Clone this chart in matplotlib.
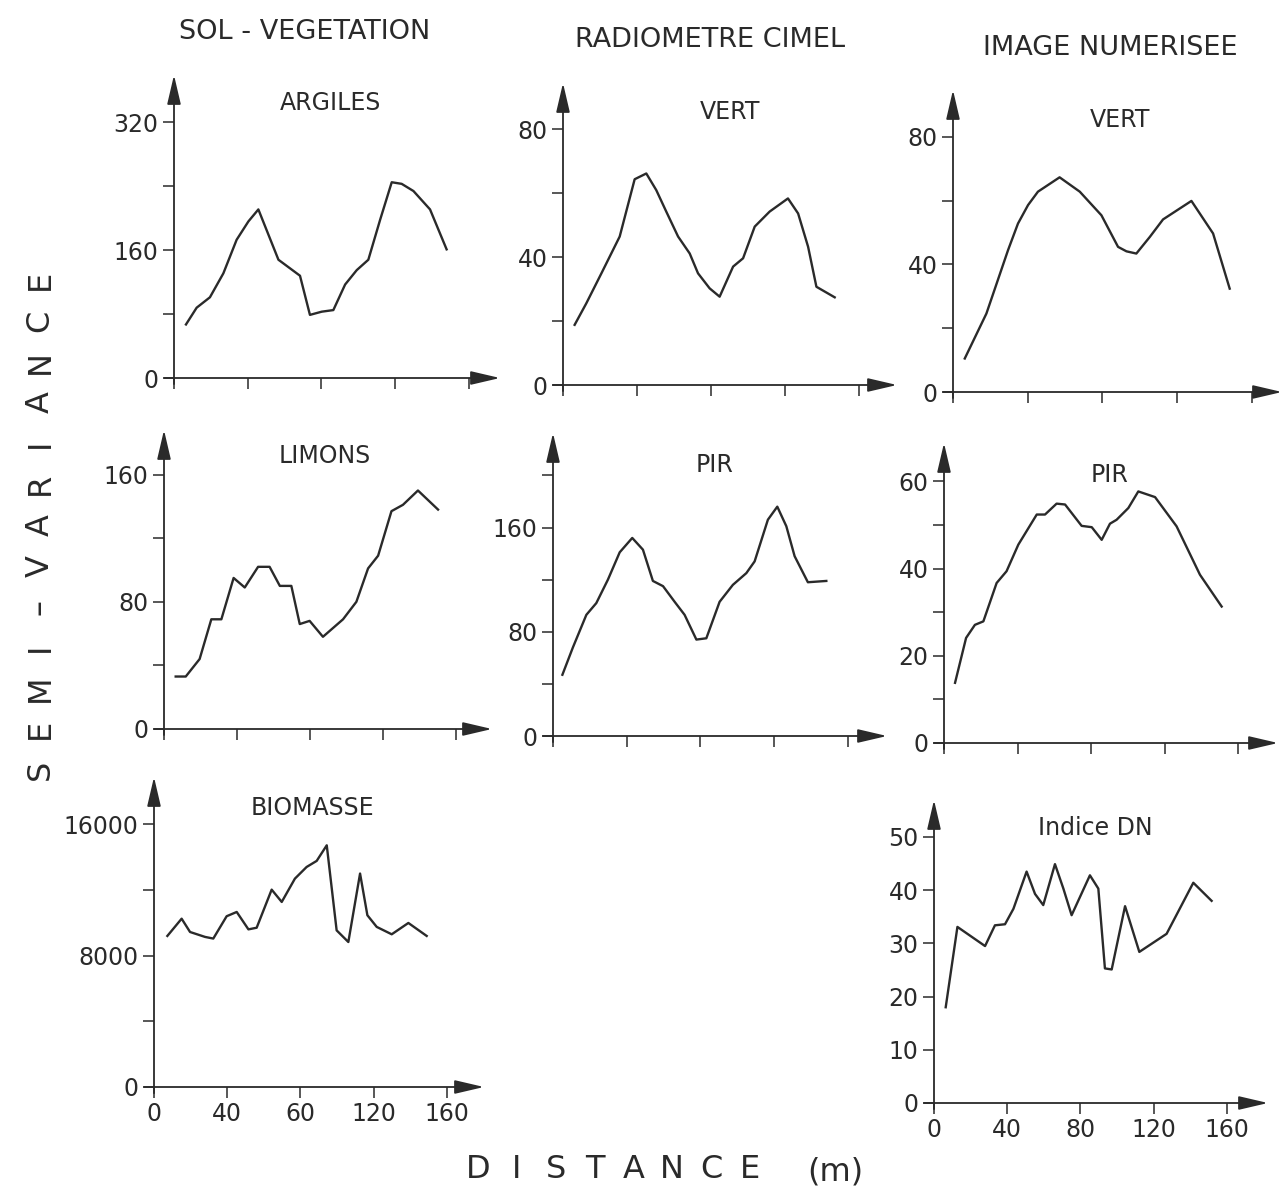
import matplotlib
matplotlib.use("Agg")
import matplotlib.pyplot as plt
import numpy as np

# --- data (distance in m, semi-variance) ---
argiles_x = [6.5, 12.3, 19.5, 26.8, 34, 40.4, 45.8, 56.7, 68.4, 73.8, 80.2, 86.5, 92.9, 99.2, 105.5, 111.9, 118.2, 123.6, 130, 139, 148]
argiles_y = [67, 88, 101, 131, 173, 196, 211, 148, 128, 79, 83, 85, 117, 135, 148, 198, 245, 243, 234, 211, 161]

rad_vert_x = [6.3, 12.6, 20.8, 30.7, 38.8, 45.1, 50.5, 55.9, 62.3, 68.6, 73.1, 79.4, 84.8, 92.1, 97.5, 103.8, 111.9, 121.8, 127.3, 132.7, 137.2, 147.1]
rad_vert_y = [18.8, 25.5, 34.9, 46.4, 64.3, 66.1, 60.9, 54.2, 46.4, 41.1, 34.9, 30.2, 27.6, 37, 39.6, 49.5, 54.2, 58.3, 53.6, 43.2, 30.7, 27.4]

img_vert_x = [6.3, 17.9, 29.5, 34.8, 40.2, 45.5, 57.1, 67.9, 79.5, 88.4, 92.9, 98.2, 105.4, 112.5, 121.4, 127.7, 139.3, 148.2]
img_vert_y = [10.5, 24.6, 44.5, 52.8, 58.6, 62.8, 67.3, 62.8, 55.4, 45.5, 44.1, 43.4, 48.6, 54.1, 57.5, 59.9, 49.7, 32.4]

limons_x = [6.4, 11.9, 19.5, 25.9, 31.4, 38.1, 44.2, 51.5, 57.8, 63.4, 69.7, 74.3, 79.7, 87, 98, 105.3, 111.7, 117.2, 124.5, 130.8, 139, 150]
limons_y = [33, 33, 44, 69, 69, 95, 89, 102, 102, 90, 90, 66, 68, 58, 69, 80, 101, 109, 137, 141, 150, 138]

rad_pir_x = [5.1, 10.8, 18.1, 23.5, 29.8, 36.2, 43, 48.8, 54.2, 59.7, 66, 71.4, 77.8, 83.2, 90.4, 97.6, 104.9, 109.4, 116.6, 121.7, 126.6, 131.1, 138.3, 148.3]
rad_pir_y = [47, 68, 93, 102, 120, 141, 152, 143, 119, 115, 103, 93, 74, 75, 103, 116, 125, 134, 166, 176, 161, 138, 118, 119]

img_pir_x = [6, 12, 16.8, 21.4, 28.6, 34, 40.4, 50.4, 54.9, 61.2, 65.8, 74.8, 80.3, 85.7, 90.2, 93.8, 100.2, 105.6, 114.7, 126.4, 139.1, 150.9]
img_pir_y = [13.8, 24.1, 27.1, 27.9, 36.7, 39.4, 45.5, 52.4, 52.4, 54.9, 54.7, 49.8, 49.5, 46.6, 50.3, 51.2, 53.9, 57.7, 56.4, 49.7, 38.6, 31.3]

biomasse_x = [7.3, 15.1, 19.7, 27.9, 32.4, 39.7, 45.2, 51.6, 56.1, 64.3, 69.8, 77, 83.4, 88.9, 94.4, 99.8, 106.2, 112.6, 116.6, 121.7, 129.9, 139, 149]
biomasse_y = [9200, 10250, 9440, 9140, 9040, 10400, 10660, 9600, 9700, 12020, 11270, 12690, 13400, 13770, 14720, 9540, 8830, 13000, 10460, 9750, 9300, 9990, 9200]

dn_x = [6.4, 12.8, 27.9, 33.3, 38.8, 43.4, 50.6, 55.2, 59.7, 66.1, 70.7, 75.2, 85.2, 89.8, 93.4, 97.1, 104.4, 112.2, 127.1, 141.7, 151.7]
dn_y = [18, 33.1, 29.5, 33.4, 33.6, 36.5, 43.5, 39.3, 37.2, 44.9, 40.3, 35.3, 42.8, 40.3, 25.3, 25.1, 37, 28.4, 31.8, 41.4, 38]

x_ticks = [0, 40, 80, 120, 160]
x_labels_left = ["0", "40", "60", "120", "160"]
x_labels_right = ["0", "40", "80", "120", "160"]

W, H = 1286, 1196
ink = "#2a2a2a"
plt.rcParams['font.family'] = ['DejaVu Sans']

fig = plt.figure(figsize=(W / 100, H / 100), dpi=100)

arrow = "-|>,head_length=0.6,head_width=0.14"


def panel(x0, y0, xtip, ytop, xmax_units, ymax_units, title, tx, ty,
          xs, ys, yticks, ylabels, xlabels=None):
    # pixel rect -> figure fraction
    ax = fig.add_axes([x0 / W, 1 - y0 / H, (xtip - x0) / W, (y0 - ytop) / H])
    ax.set_xlim(0, xmax_units)
    ax.set_ylim(0, ymax_units)
    for s in ax.spines.values():
        s.set_visible(False)
    ax.patch.set_alpha(0)
    ax.annotate("", xy=(1, 0), xytext=(-0.03, 0), xycoords="axes fraction",
                arrowprops=dict(arrowstyle=arrow, mutation_scale=30, lw=1.3,
                                color=ink, shrinkA=0, shrinkB=0))
    ax.annotate("", xy=(0, 1), xytext=(0, -0.02), xycoords="axes fraction",
                arrowprops=dict(arrowstyle=arrow, mutation_scale=30, lw=1.3,
                                color=ink, shrinkA=0, shrinkB=0))
    ax.plot(xs, ys, color=ink, lw=1.7, clip_on=False)
    ax.set_xticks(x_ticks)
    ax.set_yticks(yticks)
    ax.set_yticklabels(ylabels)
    if xlabels is None:
        ax.set_xticklabels([])
    else:
        ax.set_xticklabels(xlabels)
    ax.tick_params(direction="out", length=8, width=1.1, color=ink,
                   labelcolor=ink, labelsize=17, pad=3)
    fig.text(tx / W, 1 - ty / H, title, ha="center", va="center",
             fontsize=17, color=ink)
    return ax


def sparse(ticks, keep):
    return [str(t) if t in keep else "" for t in ticks]


# column 1 : SOL - VEGETATION
t = [0, 80, 160, 240, 320]
panel(174, 378, 500, 75, 326 / 1.842, 303 / 0.799, "ARGILES", 330, 103,
      argiles_x, argiles_y, t, sparse(t, [0, 160, 320]))
t = [0, 40, 80, 120, 160]
panel(164, 729, 492, 430, 328 / 1.827, 299 / 1.59, "LIMONS", 325, 456,
      limons_x, limons_y, t, sparse(t, [0, 80, 160]))
t = [0, 4000, 8000, 12000, 16000]
panel(154, 1087, 484, 777, 330 / 1.83, 310 / 0.01642, "BIOMASSE", 312, 808,
      biomasse_x, biomasse_y, t, sparse(t, [0, 8000, 16000]), x_labels_left)

# column 2 : RADIOMETRE CIMEL
t = [0, 20, 40, 60, 80]
panel(563, 385, 897, 83, 334 / 1.847, 302 / 3.2, "VERT", 730, 112,
      rad_vert_x, rad_vert_y, t, sparse(t, [0, 40, 80]))
t = [0, 40, 80, 120, 160, 200]
panel(553, 736, 887, 433, 334 / 1.843, 303 / 1.303, "PIR", 715, 465,
      rad_pir_x, rad_pir_y, t, sparse(t, [0, 80, 160]))

# column 3 : IMAGE NUMERISEE
t = [0, 20, 40, 60, 80]
panel(953, 392, 1282, 90, 329 / 1.867, 302 / 3.19, "VERT", 1120, 120,
      img_vert_x, img_vert_y, t, sparse(t, [0, 40, 80]))
t = [0, 10, 20, 30, 40, 50, 60]
panel(944, 743, 1278, 443, 334 / 1.84, 300 / 4.36, "PIR", 1110, 475,
      img_pir_x, img_pir_y, t, sparse(t, [0, 20, 40, 60]))
t = [0, 10, 20, 30, 40, 50]
panel(934, 1103, 1268, 800, 334 / 1.83, 303 / 5.32, "Indice DN", 1095, 828,
      dn_x, dn_y, t, [str(v) for v in t], x_labels_right)

# column headings
fig.text(305 / W, 1 - 32 / H, "SOL - VEGETATION", ha="center", va="center", fontsize=19.5, color=ink)
fig.text(710 / W, 1 - 40 / H, "RADIOMETRE CIMEL", ha="center", va="center", fontsize=19.5, color=ink)
fig.text(1110 / W, 1 - 48 / H, "IMAGE NUMERISEE", ha="center", va="center", fontsize=19.5, color=ink)

# spaced-out axis titles
ylab = "SEMI\u2013VARIANCE"
for ch, yp in zip(ylab, np.linspace(770, 280, len(ylab))):
    fig.text(40 / W, 1 - yp / H, ch, rotation=90, ha="center", va="center",
             fontsize=23, color=ink)
xlab = "DISTANCE"
for ch, xp in zip(xlab, np.linspace(478, 750, len(xlab))):
    fig.text(xp / W, 1 - 1170 / H, ch, ha="center", va="center", fontsize=23, color=ink)
fig.text(835 / W, 1 - 1172 / H, "(m)", ha="center", va="center", fontsize=23, color=ink)

fig.savefig("out.png", dpi=100, facecolor="white")
